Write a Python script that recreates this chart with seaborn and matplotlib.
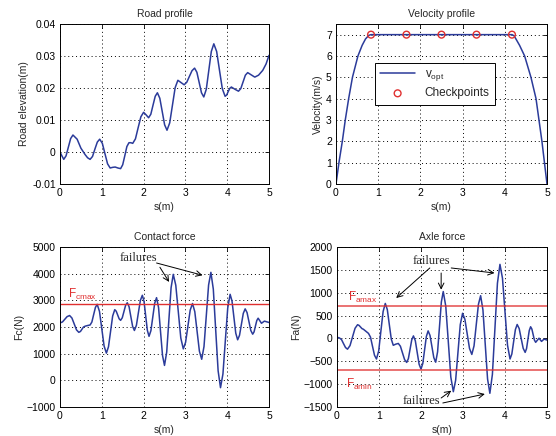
import numpy as np
import pandas as pd
import matplotlib
matplotlib.use("Agg")
import matplotlib.pyplot as plt
import seaborn as sns

# ---------------- data ----------------
road_s = [0.00, 0.045, 0.09, 0.145, 0.20, 0.255, 0.31, 0.41, 0.50, 0.60, 0.66, 0.72,
          0.778, 0.835, 0.893, 0.95, 1.013, 1.075, 1.138, 1.20, 1.26, 1.32, 1.385, 1.45,
          1.50, 1.55, 1.60, 1.65, 1.695, 1.74, 1.805, 1.87, 1.935, 2.00, 2.06, 2.12,
          2.173, 2.225, 2.278, 2.33, 2.388, 2.445, 2.503, 2.56, 2.625, 2.69, 2.755, 2.82,
          2.895, 2.97, 3.033, 3.095, 3.158, 3.22, 3.275, 3.33, 3.385, 3.44, 3.50, 3.56,
          3.62, 3.68, 3.748, 3.815, 3.883, 3.95, 3.988, 4.025, 4.063, 4.10, 4.185, 4.27,
          4.325, 4.38, 4.435, 4.49, 4.575, 4.66, 4.75, 4.85, 4.93, 5.00]
road_z = [0.0000, -0.0012, -0.0023, -0.0012, 0.0015, 0.0042, 0.0053, 0.0040, 0.0012, -0.0008, -0.0018, -0.0023,
          -0.0014, 0.0009, 0.0031, 0.0040, 0.0027, -0.0005, -0.0037, -0.0050, -0.0048, -0.0047, -0.0050, -0.0052,
          -0.0040, -0.0012, 0.0017, 0.0029, 0.0029, 0.0027, 0.0041, 0.0076, 0.0110, 0.0124, 0.0116, 0.0107,
          0.0118, 0.0146, 0.0174, 0.0185, 0.0168, 0.0127, 0.0085, 0.0068, 0.0091, 0.0146, 0.0201, 0.0224,
          0.0217, 0.0210, 0.0218, 0.0236, 0.0254, 0.0262, 0.0249, 0.0217, 0.0185, 0.0172, 0.0196, 0.0255,
          0.0314, 0.0338, 0.0314, 0.0256, 0.0198, 0.0174, 0.0178, 0.0189, 0.0199, 0.0203, 0.0196, 0.0190,
          0.0198, 0.0219, 0.0240, 0.0248, 0.0241, 0.0234, 0.0240, 0.0255, 0.0275, 0.0302]

vel_s = [0.00, 0.07, 0.15, 0.22, 0.30, 0.39, 0.52, 0.62, 0.70, 0.78, 0.83,
         4.17, 4.22, 4.35, 4.47, 4.62, 4.74, 4.81, 4.88, 4.94, 5.00]
vel_v = [0, 1, 2, 3, 4, 5, 6, 6.5, 6.8, 6.97, 7,
         7, 6.95, 6.5, 6, 5, 4, 3, 2, 1, 0]

check_s = [0.83, 1.67, 2.50, 3.33, 4.17]
check_v = [7, 7, 7, 7, 7]

fc_s = [0.00, 0.06, 0.115, 0.17, 0.23,
        0.285, 0.34, 0.395, 0.45,
        0.49, 0.525, 0.56, 0.60,
        0.66, 0.72,
        0.763, 0.805, 0.848, 0.89,
        0.945, 1.00, 1.055, 1.11,
        1.16, 1.21, 1.26, 1.31,
        1.345, 1.38, 1.415, 1.45,
        1.49, 1.53, 1.57, 1.61,
        1.653, 1.695, 1.738, 1.78,
        1.828, 1.875, 1.923, 1.97,
        2.01, 2.05, 2.09, 2.13,
        2.175, 2.22, 2.265, 2.31,
        2.358, 2.405, 2.453, 2.50,
        2.553, 2.605, 2.658, 2.71,
        2.77, 2.83, 2.89, 2.95,
        3.005, 3.06, 3.115, 3.17,
        3.225, 3.28, 3.335, 3.39,
        3.445, 3.50, 3.555, 3.61,
        3.668, 3.725, 3.783, 3.84,
        3.898, 3.955, 4.013, 4.07,
        4.115, 4.16, 4.205, 4.25,
        4.295, 4.34, 4.385, 4.43,
        4.475, 4.52, 4.565, 4.61,
        4.643, 4.675, 4.708, 4.74,
        4.78, 4.82,
        4.855, 4.89,
        4.945, 5.00]
fc_v = [2150, 2191, 2290, 2389, 2430,
        2338, 2115, 1892, 1800,
        1834, 1915, 1996, 2030,
        2055, 2075,
        2188, 2463, 2737, 2850,
        2583, 1935, 1287, 1020,
        1258, 1835, 2412, 2650,
        2592, 2450, 2308, 2250,
        2346, 2580, 2814, 2910,
        2758, 2390, 2022, 1870,
        2063, 2530, 2997, 3190,
        2965, 2420, 1875, 1650,
        1862, 2375, 2888, 3100,
        2729, 1830, 931, 560,
        1059, 2268, 3476, 3975,
        3567, 2578, 1588, 1180,
        1428, 2030, 2632, 2880,
        2575, 1835, 1095, 790,
        1266, 2420, 3574, 4050,
        3419, 1888, 356, -275,
        236, 1475, 2714, 3225,
        2976, 2373, 1769, 1520,
        1689, 2100, 2511, 2680,
        2541, 2205, 1869, 1730,
        1818, 2030, 2242, 2330,
        2235, 2140,
        2180, 2220,
        2195, 2170]
fc_max = 2870

fa_s = [0.00, 0.03, 0.06, 0.108, 0.155, 0.203, 0.25, 0.31, 0.37, 0.43,
        0.49, 0.525, 0.56, 0.595, 0.63, 0.69, 0.75, 0.798, 0.845, 0.893,
        0.94, 0.993, 1.045, 1.098, 1.15, 1.198, 1.245, 1.293, 1.34, 1.40,
        1.46, 1.51, 1.56, 1.61, 1.66, 1.70, 1.74, 1.78, 1.82, 1.865,
        1.91, 1.955, 2.00, 2.043, 2.085, 2.128, 2.17, 2.215, 2.26, 2.305,
        2.35, 2.395, 2.44, 2.485, 2.53, 2.59, 2.65, 2.71, 2.77, 2.825,
        2.88, 2.935, 2.99, 3.045, 3.10, 3.155, 3.21, 3.263, 3.315, 3.368,
        3.42, 3.475, 3.53, 3.585, 3.64, 3.70, 3.76, 3.82, 3.88, 3.94,
        4.00, 4.06, 4.12, 4.163, 4.205, 4.248, 4.29, 4.338, 4.385, 4.433,
        4.48, 4.513, 4.545, 4.578, 4.61, 4.64, 4.67, 4.70, 4.73, 4.77,
        4.81, 4.84, 4.87, 4.90, 4.93, 4.965, 5.00]
fa_v = [25, 18, 10, -26, -113, -199, -235, -157, 33, 222,
        300, 285, 250, 215, 200, 155, 110, 28, -170, -368,
        -450, -273, 158, 588, 765, 631, 308, -16, -150, -125,
        -110, -171, -318, -464, -525, -440, -235, -30, 55, -51,
        -308, -564, -670, -548, -253, 43, 165, 65, -178, -420,
        -520, -294, 253, 799, 1025, 705, -70, -845, -1165, -915,
        -308, 300, 550, 419, 100, -219, -350, -162, 293, 747,
        935, 623, -133, -888, -1200, -788, 210, 1208, 1620, 1318,
        585, -148, -450, -340, -73, 195, 305, 216, 0, -216,
        -305, -223, -25, 173, 255, 205, 85, -35, -85, -40,
        5, -30, -65, -40, -15, -25, -35]
fa_max = 700
fa_min = -700

x_ticks = [0, 1, 2, 3, 4, 5]

# ---------------- style ----------------
sns.set_style("white")
plt.rcParams['font.family'] = ['Liberation Sans', 'DejaVu Sans']
plt.rcParams['mathtext.fontset'] = 'custom'
plt.rcParams['mathtext.rm'] = 'Liberation Sans'
plt.rcParams['mathtext.it'] = 'Liberation Sans'
FS = 7.5
LINE = '#2b3b9a'
RED = '#e03030'

fig = plt.figure(figsize=(5.56, 4.36), dpi=100)
ax_tl = fig.add_axes([0.1079, 0.5780, 0.3759, 0.3670])
ax_tr = fig.add_axes([0.6043, 0.5780, 0.3795, 0.3670])
ax_bl = fig.add_axes([0.1079, 0.0665, 0.3759, 0.3670])
ax_br = fig.add_axes([0.6061, 0.0665, 0.3777, 0.3670])


def style(ax, title, ylabel, yticks, ylim, yticklabels=None):
    ax.set_xlim(0, 5)
    ax.set_ylim(*ylim)
    ax.set_xticks(x_ticks)
    ax.set_yticks(yticks)
    if yticklabels is not None:
        ax.set_yticklabels(yticklabels)
    ax.set_title(title, fontsize=FS, pad=5)
    ax.set_xlabel('s(m)', fontsize=FS, labelpad=3)
    ax.set_ylabel(ylabel, fontsize=FS, labelpad=2)
    ax.tick_params(direction='in', top=True, right=True, length=3, width=0.6,
                   labelsize=FS, pad=3, colors='black')
    ax.grid(True, linestyle=(0, (1, 3)), color='black', linewidth=0.7)
    for sp in ax.spines.values():
        sp.set_color('black')
        sp.set_linewidth(0.7)


# Road profile
df_road = pd.DataFrame({'s': road_s, 'z': road_z})
sns.lineplot(data=df_road, x='s', y='z', ax=ax_tl, color=LINE, lw=1.1,
             estimator=None, sort=False)
style(ax_tl, 'Road profile', 'Road elevation(m)',
      [-0.01, 0, 0.01, 0.02, 0.03, 0.04], (-0.01, 0.04),
      ['-0.01', '0', '0.01', '0.02', '0.03', '0.04'])

# Velocity profile
df_vel = pd.DataFrame({'s': vel_s, 'v': vel_v})
df_chk = pd.DataFrame({'s': check_s, 'v': check_v})
sns.lineplot(data=df_vel, x='s', y='v', ax=ax_tr, color=LINE, lw=1.1,
             estimator=None, sort=False, label=r'$\mathrm{v_{opt}}$')
sns.scatterplot(data=df_chk, x='s', y='v', ax=ax_tr, marker='o', s=24,
                facecolor='none', edgecolor=RED, linewidth=1.0,
                label='Checkpoints', zorder=5, clip_on=False)
style(ax_tr, 'Velocity profile', 'Velocity(m/s)', list(range(0, 8)), (0, 7.5))
leg = ax_tr.legend(loc='upper left', bbox_to_anchor=(0.183, 0.757), fontsize=8.5,
                   frameon=True, fancybox=False, edgecolor='black', framealpha=1,
                   handlelength=3.0, borderpad=0.45, labelspacing=0.35,
                   handletextpad=0.8, borderaxespad=0)
leg.get_frame().set_linewidth(0.7)

# Contact force
df_fc = pd.DataFrame({'s': fc_s, 'f': fc_v})
sns.lineplot(data=df_fc, x='s', y='f', ax=ax_bl, color=LINE, lw=1.1,
             estimator=None, sort=False)
ax_bl.axhline(fc_max, color=RED, lw=1.0)
style(ax_bl, 'Contact force', 'Fc(N)', list(range(-1000, 5001, 1000)), (-1000, 5000))
ax_bl.text(0.2, 3080, r'$\mathrm{F_{cmax}}$', color=RED, fontsize=8.5, ha='left', va='baseline')
ax_bl.text(1.87, 4600, 'failures', fontsize=9, family=['Liberation Serif'],
           ha='center', va='center')
arr = dict(arrowstyle='->', color='black', lw=0.7, shrinkA=0, shrinkB=0)
ax_bl.annotate('', xy=(2.61, 3690), xytext=(2.39, 4240), arrowprops=arr)
ax_bl.annotate('', xy=(3.41, 3940), xytext=(2.31, 4400), arrowprops=arr)

# Axle force
df_fa = pd.DataFrame({'s': fa_s, 'f': fa_v})
sns.lineplot(data=df_fa, x='s', y='f', ax=ax_br, color=LINE, lw=1.1,
             estimator=None, sort=False)
ax_br.axhline(fa_max, color=RED, lw=1.2, alpha=0.8)
ax_br.axhline(fa_min, color=RED, lw=1.2, alpha=0.8)
style(ax_br, 'Axle force', 'Fa(N)', list(range(-1500, 2001, 500)), (-1500, 2000))
ax_br.text(0.26, 830, r'$\mathrm{F_{amax}}$', color=RED, fontsize=8.5, ha='left', va='baseline')
ax_br.text(0.22, -1080, r'$\mathrm{F_{amin}}$', color=RED, fontsize=8.5, ha='left', va='baseline')
ax_br.text(2.25, 1700, 'failures', fontsize=9, family=['Liberation Serif'],
           ha='center', va='center')
ax_br.annotate('', xy=(1.41, 884), xytext=(2.21, 1541), arrowprops=arr)
ax_br.annotate('', xy=(2.48, 1066), xytext=(2.48, 1431), arrowprops=arr)
ax_br.annotate('', xy=(3.75, 1431), xytext=(2.72, 1541), arrowprops=arr)
ax_br.text(2.02, -1364, 'failures', fontsize=9, family=['Liberation Serif'],
           ha='center', va='center')
ax_br.annotate('', xy=(2.72, -1143), xytext=(2.48, -1303), arrowprops=arr)
ax_br.annotate('', xy=(3.52, -1216), xytext=(2.52, -1412), arrowprops=arr)

fig.savefig('out.png', dpi=100, facecolor='white')
